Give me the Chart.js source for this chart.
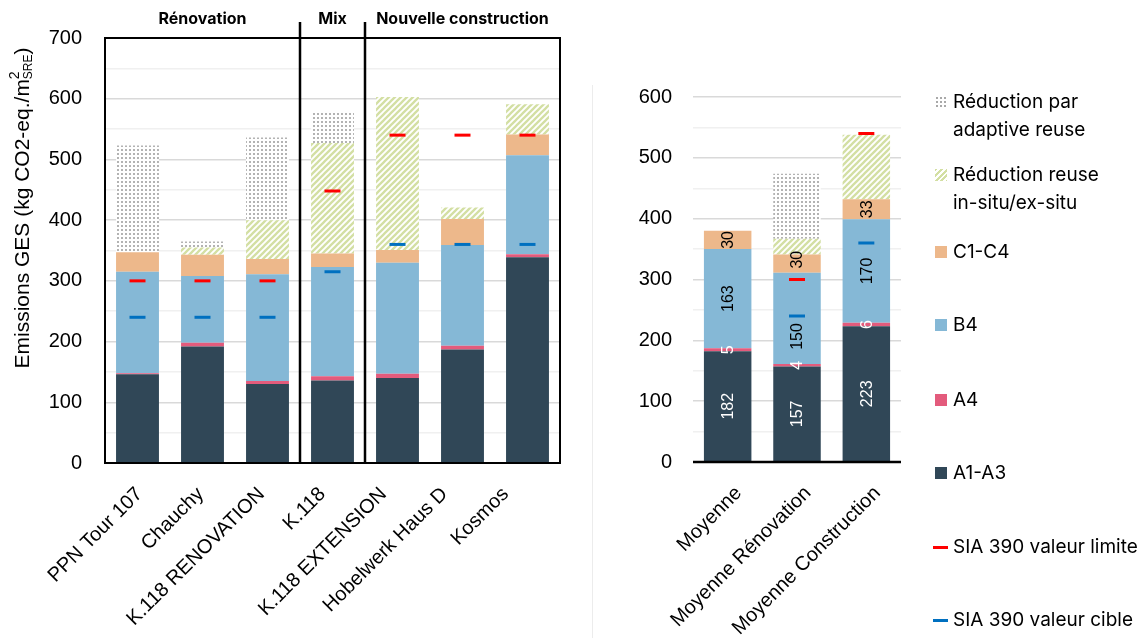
<!DOCTYPE html>
<html lang="fr">
<head>
<meta charset="utf-8">
<title>Emissions GES</title>
<script src="https://cdn.jsdelivr.net/npm/chart.js@4.4.1/dist/chart.umd.min.js"></script>
<style>
  html, body { margin: 0; padding: 0; background: #fff; width: 1141px; height: 638px; overflow: hidden; }
  canvas { position: absolute; left: 0; top: 0; }
  #divider { position: absolute; left: 592px; top: 85px; width: 1px; height: 553px; background: #ececec; }
  #legend { position: absolute; left: 0; top: 0; font-family: Inter, "Liberation Sans", sans-serif; font-size: 19px; color: #000; }
  #legend .txt { position: absolute; left: 953px; line-height: 28px; white-space: nowrap; }
  #legend .sw { position: absolute; left: 935px; width: 12px; height: 12px; }
  #legend .ln { position: absolute; left: 933px; width: 15px; height: 3px; }
</style>
</head>
<body>
<canvas id="projects" width="1141" height="638"></canvas>
<canvas id="averages" width="1141" height="638"></canvas>
<div id="divider"></div>
<div id="legend"></div>
<script>
// Projects (left panel)
const projectLabels = ['PPN Tour 107', 'Chauchy', 'K.118 RENOVATION', 'K.118', 'K.118 EXTENSION', 'Hobelwerk Haus D', 'Kosmos'];
const projectA1A3 = [146, 192, 130, 136, 140, 187, 339];
const projectA4 = [2, 6, 5, 7, 7, 6, 5];
const projectB4 = [167, 110, 176, 180, 183, 166, 163];
const projectC1C4 = [32, 35, 25, 22, 21, 43, 34];
const projectReuse = [0, 12, 64, 182, 252, 19, 50];
const projectAdaptive = [176, 10, 136, 52, 0, 0, 0];
const projectLimit = [300, 300, 300, 448, 540, 540, 540];
const projectTarget = [240, 240, 240, 315, 360, 360, 360];

// Project groups
const groupNames = ['Rénovation', 'Mix', 'Nouvelle construction'];
const groupCenters = [1, 3, 5];
const groupDividers = [2.5, 3.5];

// Averages (right panel)
const avgLabels = ['Moyenne', 'Moyenne Rénovation', 'Moyenne Construction'];
const avgA1A3 = [182, 157, 223];
const avgA4 = [5, 4, 6];
const avgB4 = [163, 150, 170];
const avgC1C4 = [30, 30, 33];
const avgReuse = [0, 26, 106];
const avgAdaptive = [0, 107, 0];
const avgLimit = [null, 300, 540];
const avgTarget = [null, 240, 360];

// Axis ticks
const leftTicks = [0, 100, 200, 300, 400, 500, 600, 700];
const rightTicks = [0, 100, 200, 300, 400, 500, 600];

const seriesNames = ['A1-A3', 'A4', 'B4', 'C1-C4', 'Réduction reuse in-situ/ex-situ', 'Réduction par adaptive reuse'];
const COLORS = { a1a3: '#304757', a4: '#e35b7c', b4: '#85b8d6', c1c4: '#edb88b', limit: '#ff0000', target: '#0070c0' };
const TICK_FONT = '"Liberation Sans", Arial, sans-serif';

// value labels moved off the SIA markers (pixels, per dataset / per bar)
const labelNudge = { 2: [0, 18, 0], 3: [0, -4, 0] };

function dotPattern() {
  const c = document.createElement('canvas');
  c.width = 4; c.height = 4;
  const g = c.getContext('2d');
  g.fillStyle = '#ffffff'; g.fillRect(0, 0, 4, 4);
  g.fillStyle = '#b3b3b3'; g.fillRect(1, 1, 2, 2);
  return g.createPattern(c, 'repeat');
}
function hatchPattern() {
  const s = 6;
  const c = document.createElement('canvas');
  c.width = s; c.height = s;
  const g = c.getContext('2d');
  g.fillStyle = '#ffffff'; g.fillRect(0, 0, s, s);
  g.strokeStyle = '#d3dfa3'; g.lineWidth = 2.3;
  [[-s / 2, s / 2, s / 2, -s / 2], [0, s, s, 0], [s / 2, s * 1.5, s * 1.5, s / 2]].forEach(([x1, y1, x2, y2]) => {
    g.beginPath(); g.moveTo(x1, y1); g.lineTo(x2, y2); g.stroke();
  });
  return g.createPattern(c, 'repeat');
}
const DOTS = dotPattern();
const HATCH = hatchPattern();

function barSets(a1, a4, b4, c1, reuse, adaptive, pct) {
  const base = { type: 'bar', stack: 'total', borderWidth: 0, barPercentage: pct, categoryPercentage: 1 };
  return [
    Object.assign({ label: seriesNames[0], data: a1, backgroundColor: COLORS.a1a3 }, base),
    Object.assign({ label: seriesNames[1], data: a4, backgroundColor: COLORS.a4 }, base),
    Object.assign({ label: seriesNames[2], data: b4, backgroundColor: COLORS.b4 }, base),
    Object.assign({ label: seriesNames[3], data: c1, backgroundColor: COLORS.c1c4 }, base),
    Object.assign({ label: seriesNames[4], data: reuse, backgroundColor: HATCH }, base),
    Object.assign({ label: seriesNames[5], data: adaptive, backgroundColor: DOTS }, base)
  ];
}
function markerSet(label, data, color, stack) {
  return {
    type: 'line', label, data, stack, order: -1, showLine: false,
    pointStyle: 'line', pointRadius: 8, pointHoverRadius: 8,
    borderColor: color, pointBorderColor: color, pointBorderWidth: 3, borderWidth: 3
  };
}

function yScale(max, ticks, width, pad) {
  return {
    stacked: true, min: 0, max,
    afterFit(s) { s.width = width; },
    afterBuildTicks(s) {
      // half-step lines are kept as light minor gridlines
      const all = [];
      for (let v = 0; v <= max; v += 50) all.push({ value: v });
      s.ticks = all;
    },
    border: { display: false },
    grid: {
      drawTicks: false, lineWidth: 1.5,
      color: c => (c.tick && ticks.includes(c.tick.value)) ? '#d9d9d9' : '#f0f0f0'
    },
    ticks: {
      autoSkip: false, padding: pad, color: '#000',
      font: { family: TICK_FONT, size: 20 },
      callback: v => ticks.includes(v) ? String(v) : ''
    }
  };
}
function xScale(height) {
  return {
    stacked: true,
    afterFit(s) { s.height = height; },
    grid: { display: false }, border: { display: false },
    ticks: { display: false }
  };
}

function drawCategoryLabels(chart, labels, offsetFn) {
  const ctx = chart.ctx, xs = chart.scales.x;
  const y0 = chart.chartArea.bottom + 21;
  ctx.save();
  ctx.font = '20px ' + TICK_FONT;
  ctx.fillStyle = '#000';
  ctx.textAlign = 'right';
  ctx.textBaseline = 'top';
  labels.forEach((l, i) => {
    ctx.save();
    ctx.translate(xs.getPixelForValue(i) + offsetFn(i), y0);
    ctx.rotate(-Math.PI / 4);
    ctx.fillText(l, 0, 0);
    ctx.restore();
  });
  ctx.restore();
}

const projectDecor = {
  id: 'projectDecor',
  afterDraw(chart) {
    const ctx = chart.ctx, a = chart.chartArea, xs = chart.scales.x;
    ctx.save();
    // panel frame
    ctx.strokeStyle = '#000'; ctx.lineWidth = 2;
    ctx.strokeRect(a.left, a.top, a.right - a.left, a.bottom - a.top);
    // group dividers
    ctx.lineWidth = 2.5;
    groupDividers.forEach(v => {
      const x = Math.round((xs.getPixelForValue(v - 0.5) + xs.getPixelForValue(v + 0.5)) / 2);
      ctx.beginPath(); ctx.moveTo(x, 22); ctx.lineTo(x, a.bottom); ctx.stroke();
    });
    // group names
    ctx.fillStyle = '#000';
    ctx.font = 'bold 16px Inter, "Liberation Sans", sans-serif';
    ctx.textAlign = 'center'; ctx.textBaseline = 'middle';
    groupNames.forEach((n, i) => ctx.fillText(n, xs.getPixelForValue(groupCenters[i]), 19));
    ctx.restore();
    drawCategoryLabels(chart, projectLabels, i => -5 - 4 * i);
    // vertical axis title with m² and SRE subscript
    const parts = [
      { t: 'Emissions GES (kg CO2-eq./m', f: '21px ' + TICK_FONT, dy: 0 },
      { t: '2', f: '14px ' + TICK_FONT, dy: -8, stackNext: true },
      { t: 'SRE', f: '12px ' + TICK_FONT, dy: 6 },
      { t: ')', f: '21px ' + TICK_FONT, dy: 0 }
    ];
    ctx.save();
    let total = 0, hold = 0;
    parts.forEach(p => {
      ctx.font = p.f; const w = ctx.measureText(p.t).width;
      if (p.stackNext) { hold = w; } else { total += Math.max(w, hold); hold = 0; }
    });
    ctx.translate(23, 208);
    ctx.rotate(-Math.PI / 2);
    ctx.fillStyle = '#000'; ctx.textAlign = 'left'; ctx.textBaseline = 'middle';
    let x = -total / 2; hold = 0;
    parts.forEach(p => {
      ctx.font = p.f;
      const w = ctx.measureText(p.t).width;
      ctx.fillText(p.t, x, p.dy);
      if (p.stackNext) { hold = w; } else { x += Math.max(w, hold); hold = 0; }
    });
    ctx.restore();
  }
};

const averageDecor = {
  id: 'averageDecor',
  afterDatasetsDraw(chart) {
    const ctx = chart.ctx;
    ctx.save();
    ctx.font = '16px ' + TICK_FONT;
    ctx.textAlign = 'center'; ctx.textBaseline = 'middle';
    [0, 1, 2, 3].forEach(di => {
      const meta = chart.getDatasetMeta(di);
      const data = chart.data.datasets[di].data;
      const nudge = labelNudge[di] || [];
      ctx.fillStyle = di < 2 ? '#ffffff' : '#000000';
      meta.data.forEach((el, i) => {
        ctx.save();
        ctx.translate(el.x, (el.y + el.base) / 2 + (nudge[i] || 0));
        ctx.rotate(-Math.PI / 2);
        ctx.fillText(String(data[i]), 0, 1);
        ctx.restore();
      });
    });
    ctx.restore();
  },
  afterDraw(chart) {
    const ctx = chart.ctx, a = chart.chartArea;
    ctx.save();
    ctx.strokeStyle = '#000'; ctx.lineWidth = 2.5;
    ctx.beginPath(); ctx.moveTo(a.left, a.bottom); ctx.lineTo(a.right, a.bottom); ctx.stroke();
    ctx.restore();
    drawCategoryLabels(chart, avgLabels, () => 4);
  }
};

const common = {
  responsive: false, animation: false, events: [],
  plugins: { legend: { display: false }, tooltip: { enabled: false } }
};

new Chart(document.getElementById('projects'), {
  data: {
    labels: projectLabels,
    datasets: barSets(projectA1A3, projectA4, projectB4, projectC1C4, projectReuse, projectAdaptive, 0.66).concat([
      markerSet('SIA 390 valeur limite', projectLimit, COLORS.limit, 'limit'),
      markerSet('SIA 390 valeur cible', projectTarget, COLORS.target, 'target')
    ])
  },
  options: Object.assign({}, common, {
    layout: { padding: { left: 0, top: 38, right: 581, bottom: 0 } },
    scales: { x: xScale(175), y: yScale(700, leftTicks, 105, 23) }
  }),
  plugins: [projectDecor]
});

new Chart(document.getElementById('averages'), {
  data: {
    labels: avgLabels,
    datasets: barSets(avgA1A3, avgA4, avgB4, avgC1C4, avgReuse, avgAdaptive, 0.685).concat([
      markerSet('SIA 390 valeur limite', avgLimit, COLORS.limit, 'limit'),
      markerSet('SIA 390 valeur cible', avgTarget, COLORS.target, 'target')
    ])
  },
  options: Object.assign({}, common, {
    layout: { padding: { left: 0, top: 97, right: 240, bottom: 0 } },
    scales: { x: xScale(176), y: yScale(600, rightTicks, 693, 21) }
  }),
  plugins: [averageDecor]
});

// Legend
const legendItems = [
  { lines: ['Réduction par', 'adaptive reuse'], cy: 102, kind: 'dots' },
  { lines: ['Réduction reuse', 'in-situ/ex-situ'], cy: 175, kind: 'hatch' },
  { lines: ['C1-C4'], cy: 252, kind: 'box', color: COLORS.c1c4 },
  { lines: ['B4'], cy: 325, kind: 'box', color: COLORS.b4 },
  { lines: ['A4'], cy: 400, kind: 'box', color: COLORS.a4 },
  { lines: ['A1-A3'], cy: 473, kind: 'box', color: COLORS.a1a3 },
  { lines: ['SIA 390 valeur limite'], cy: 547, kind: 'line', color: COLORS.limit },
  { lines: ['SIA 390 valeur cible'], cy: 620, kind: 'line', color: COLORS.target }
];
const legend = document.getElementById('legend');
legendItems.forEach(it => {
  const sw = document.createElement('div');
  if (it.kind === 'line') {
    sw.className = 'ln'; sw.style.top = (it.cy - 1.5) + 'px'; sw.style.background = it.color;
  } else {
    sw.className = 'sw'; sw.style.top = (it.cy - 6) + 'px';
    if (it.kind === 'box') sw.style.background = it.color;
    if (it.kind === 'dots') sw.style.background = 'radial-gradient(circle, #a9a9a9 0.9px, transparent 1.2px) 0 0 / 4px 4px';
    if (it.kind === 'hatch') sw.style.background = 'repeating-linear-gradient(135deg, #d3dfa3 0 2px, #ffffff 2px 4px)';
  }
  legend.appendChild(sw);
  const tx = document.createElement('div');
  tx.className = 'txt';
  tx.style.top = (it.cy - 14) + 'px';
  tx.innerHTML = it.lines.join('<br>');
  legend.appendChild(tx);
});
</script>
</body>
</html>
